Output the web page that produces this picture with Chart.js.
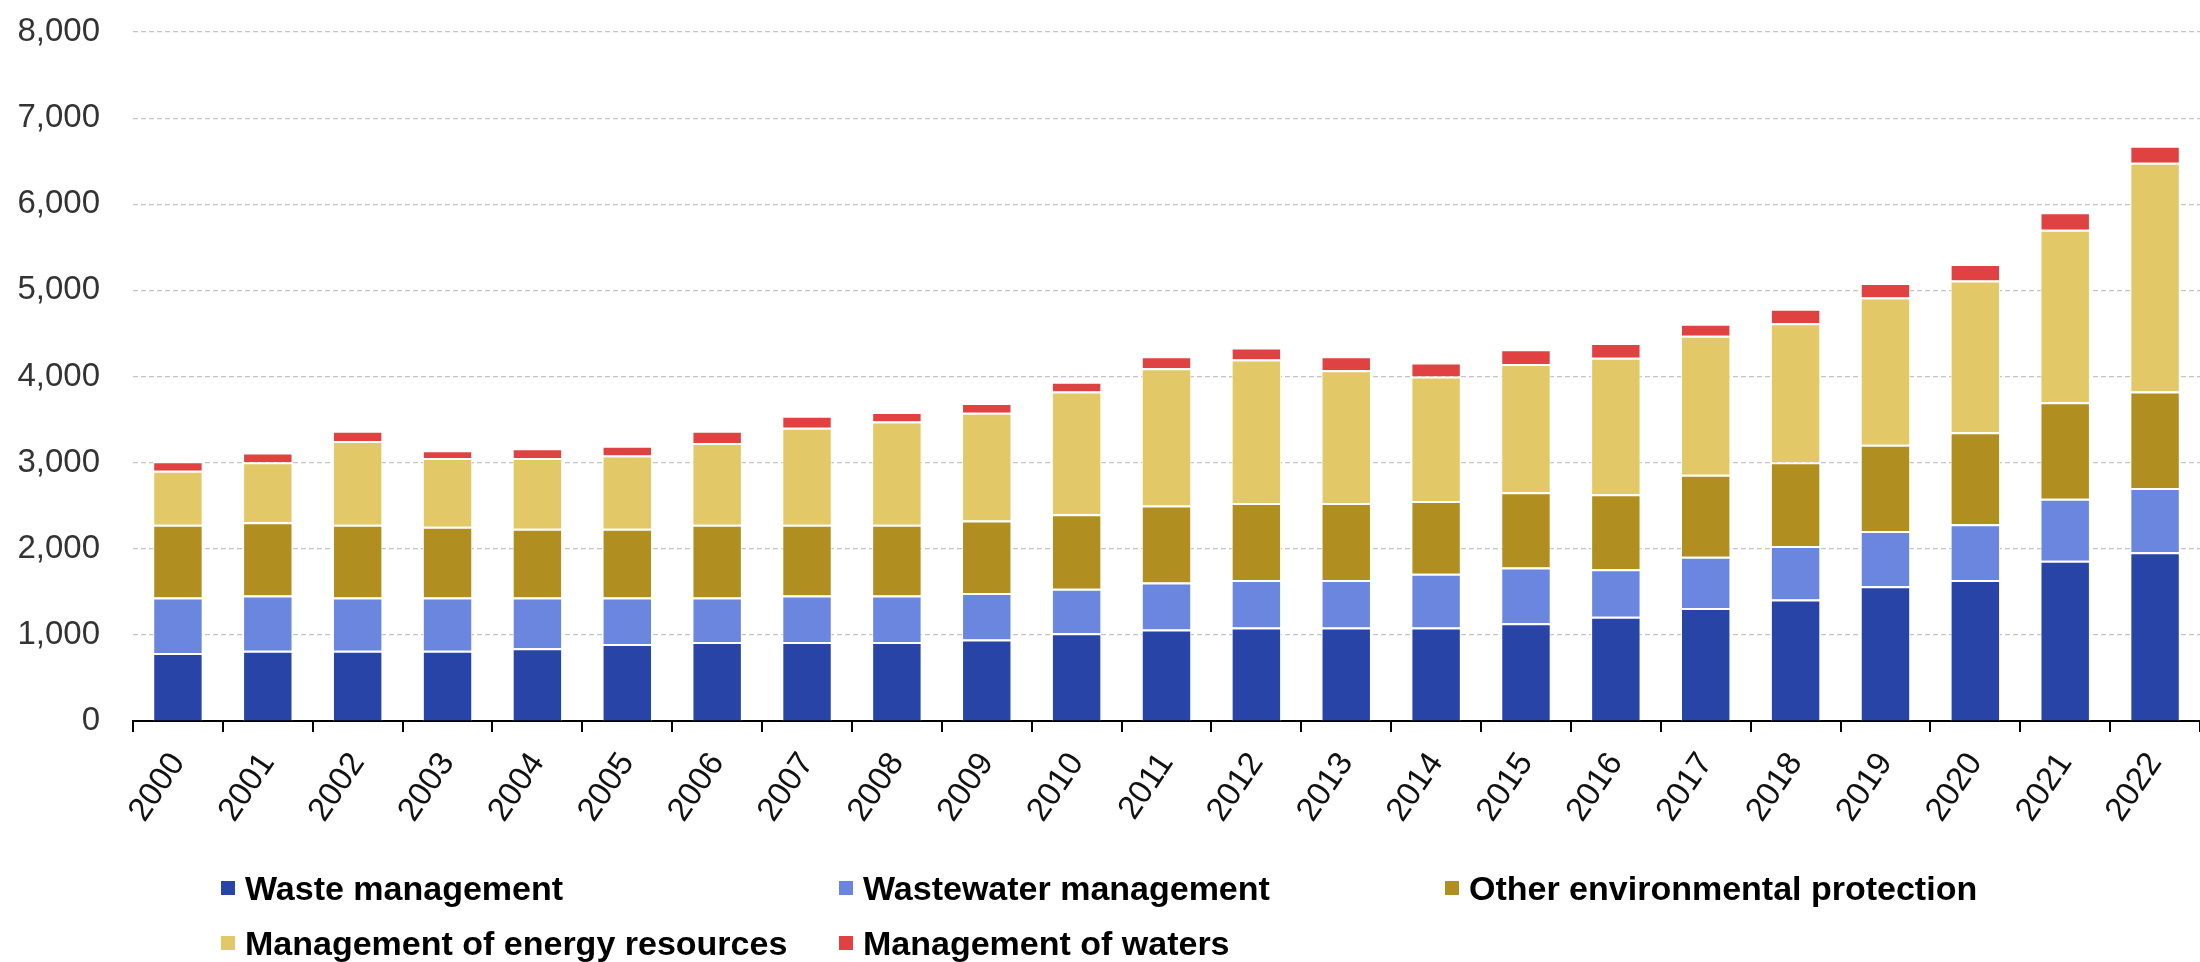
<!DOCTYPE html>
<html>
<head>
<meta charset="utf-8">
<script src="https://cdn.jsdelivr.net/npm/chart.js@4/dist/chart.umd.min.js"></script>
<style>
  html, body { margin: 0; padding: 0; background: #fff; }
  #wrap { position: relative; width: 2200px; height: 962px; }
  #bar-chart { display: block; }
  #legend { position: absolute; left: 0; top: 0; width: 2200px; height: 962px; pointer-events: none;
    font-family: "Liberation Sans", Arial, sans-serif; font-weight: bold; font-size: 34px; color: #000; }
  .item { position: absolute; display: flex; align-items: center; white-space: nowrap; }
  .box { width: 14px; height: 14px; margin-right: 10px; }
</style>
</head>
<body>
<div id="wrap">
  <canvas id="bar-chart" width="2200" height="962"></canvas>
  <div id="legend"></div>
</div>
<script>
const years = ['2000', '2001', '2002', '2003', '2004', '2005', '2006', '2007', '2008', '2009', '2010', '2011',
  '2012', '2013', '2014', '2015', '2016', '2017', '2018', '2019', '2020', '2021', '2022'];
const waste = [790, 816, 816, 816, 844, 895, 917, 917, 917, 945, 1018, 1063, 1086, 1086, 1086, 1136, 1210, 1311, 1412, 1564, 1637, 1862, 1958];
const wastewater = [645, 641, 619, 619, 591, 540, 518, 540, 540, 540, 518, 546, 551, 551, 624, 647, 551, 596, 619, 641, 647, 720, 748];
const otherProtection = [845, 850, 843, 821, 798, 798, 843, 821, 821, 844, 866, 894, 895, 895, 844, 872, 872, 951, 973, 1002, 1069, 1120, 1120];
const energy = [625, 697, 974, 799, 822, 850, 951, 1126, 1199, 1249, 1424, 1593, 1665, 1541, 1446, 1491, 1586, 1615, 1615, 1710, 1761, 2003, 2655];
const waters = [112, 113, 118, 90, 112, 113, 141, 140, 112, 113, 112, 140, 141, 163, 163, 169, 169, 140, 169, 169, 191, 202, 197];
const yTicks = [0, 1000, 2000, 3000, 4000, 5000, 6000, 7000, 8000];

function series(label, data, color) {
  return {
    label: label,
    data: data,
    backgroundColor: color,
    borderColor: '#ffffff',
    borderWidth: { top: 2, left: 1, right: 1, bottom: 0 },
    borderSkipped: false,
    barPercentage: 0.55,
    categoryPercentage: 1
  };
}

const chart = new Chart(document.getElementById('bar-chart').getContext('2d'), {
  type: 'bar',
  data: {
    labels: years,
    datasets: [
      series('Waste management', waste, '#2744a6'),
      series('Wastewater management', wastewater, '#6b86de'),
      series('Other environmental protection', otherProtection, '#b08f20'),
      series('Management of energy resources', energy, '#e2c866'),
      series('Management of waters', waters, '#e04242')
    ]
  },
  options: {
    responsive: false,
    animation: false,
    layout: { padding: { top: 32, right: 0, bottom: 111, left: 0 } },
    scales: {
      x: {
        stacked: true,
        offset: true,
        grid: {
          display: true,
          offset: true,
          drawOnChartArea: false,
          drawTicks: true,
          tickLength: 11,
          color: '#000',
          lineWidth: 2
        },
        border: { display: true, color: '#000', width: 2 },
        ticks: {
          color: '#111',
          font: { family: 'Liberation Sans', size: 33 },
          minRotation: 56,
          maxRotation: 56,
          padding: 14,
          autoSkip: false
        },
        afterFit: function (scale) {
          scale.height = 130;
          scale.paddingLeft = 0;
          scale.paddingRight = 0;
        }
      },
      y: {
        stacked: true,
        min: 0,
        max: 8000,
        afterBuildTicks: function (scale) { scale.ticks = yTicks.map(v => ({ value: v })); },
        grid: {
          color: '#c4c4c4',
          lineWidth: 1.2,
          drawTicks: false
        },
        border: { display: false, dash: [5, 3] },
        ticks: {
          color: '#333',
          font: { family: 'Liberation Sans', size: 33 },
          padding: 33,
          callback: v => v.toLocaleString('en-US')
        },
        afterFit: function (scale) {
          scale.width = 133;
          scale.paddingTop = 0;
          scale.paddingBottom = 0;
        }
      }
    },
    plugins: {
      legend: { display: false },
      tooltip: { enabled: false }
    }
  }
});

// legend laid out in columns like the original
const legendPos = [[221, 888], [839, 888], [1445, 888], [221, 943], [839, 943]];
const legendEl = document.getElementById('legend');
chart.data.datasets.forEach((ds, i) => {
  const item = document.createElement('div');
  item.className = 'item';
  item.style.left = legendPos[i][0] + 'px';
  item.style.top = (legendPos[i][1] - 20) + 'px';
  item.style.height = '40px';
  const box = document.createElement('span');
  box.className = 'box';
  box.style.background = ds.backgroundColor;
  const txt = document.createElement('span');
  txt.textContent = ds.label;
  item.appendChild(box);
  item.appendChild(txt);
  legendEl.appendChild(item);
});
</script>
</body>
</html>
